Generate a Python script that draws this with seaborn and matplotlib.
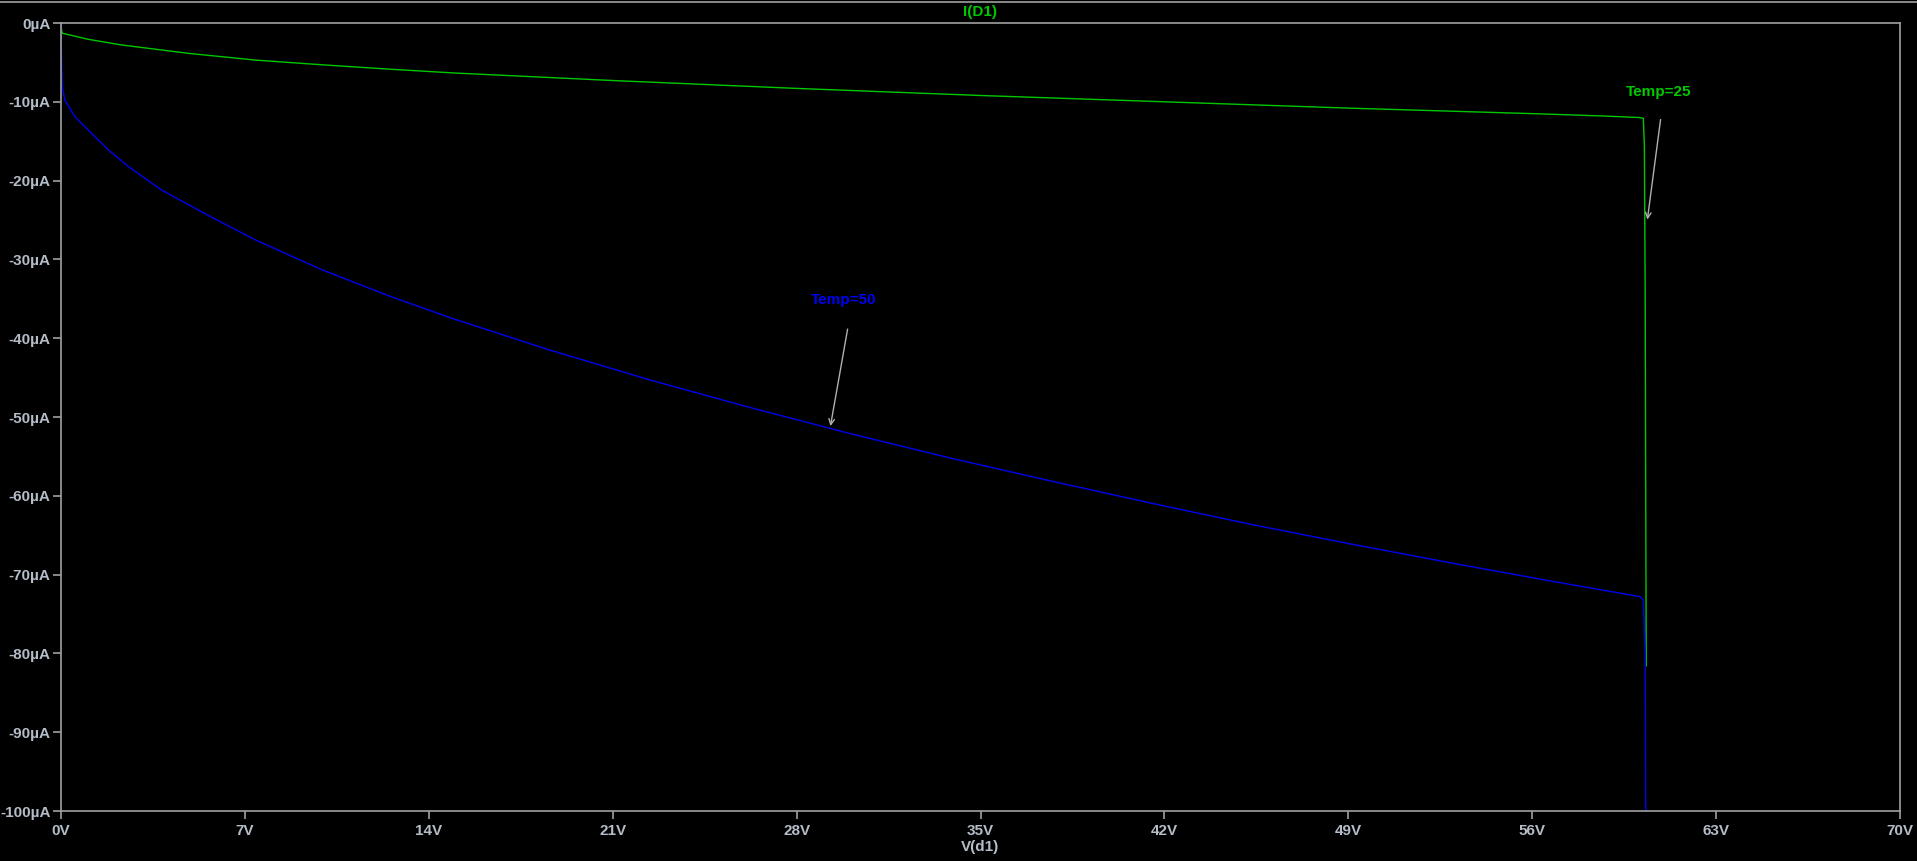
import numpy as np
import pandas as pd
import seaborn as sns
import matplotlib.pyplot as plt
from matplotlib.lines import Line2D

# Diode reverse current vs voltage, two temperatures
v_25 = [0, 0.02, 0.05, 1.04, 2.31, 4.85, 7.38, 9.92, 12.46, 15.0, 21, 28, 35, 42, 49, 56, 58.7, 60.1,
        60.23, 60.27, 60.3, 60.34]
i_25 = [0, -0.9, -1.3, -2.07, -2.79, -3.85, -4.7, -5.3, -5.85, -6.35, -7.3, -8.3, -9.2, -10.0, -10.8, -11.5,
        -11.8, -12.0, -12.1, -15.6, -34.0, -81.6]

v_50 = [0, 0.02, 0.05, 0.15, 0.53, 1.04, 1.80, 2.56, 3.83, 5.48, 7.38, 9.92, 12.46, 14.81, 18.6, 22.42,
        26.23, 30.03, 33.84, 37.65, 41.45, 45.26, 49.07, 52.88, 56.68, 60.11, 60.23, 60.3, 60.33]
i_50 = [0, -4.7, -8.1, -9.8, -11.9, -13.6, -16.1, -18.2, -21.2, -24.2, -27.5, -31.3, -34.6, -37.4, -41.5,
        -45.3, -48.8, -52.1, -55.2, -58.1, -60.9, -63.6, -66.1, -68.5, -70.8, -72.8, -73.2, -80.0, -105.0]

x_ticks = [0, 7, 14, 21, 28, 35, 42, 49, 56, 63, 70]
x_labels = ['0V', '7V', '14V', '21V', '28V', '35V', '42V', '49V', '56V', '63V', '70V']
y_ticks = [0, -10, -20, -30, -40, -50, -60, -70, -80, -90, -100]
y_labels = ['0µA', '-10µA', '-20µA', '-30µA', '-40µA', '-50µA', '-60µA', '-70µA', '-80µA', '-90µA', '-100µA']

df25 = pd.DataFrame({'V': v_25, 'I': i_25})
df50 = pd.DataFrame({'V': v_50, 'I': i_50})

sns.set_style('dark')
plt.rcParams['font.family'] = ['Liberation Sans', 'DejaVu Sans']

green = '#00c800'
blue = '#0000f0'
grey = '#a0a0a0'
label_col = '#b4bcc8'
fs = 11

fig = plt.figure(figsize=(19.17, 8.61), dpi=100, facecolor='black')
ax = fig.add_axes([61 / 1917, 50 / 861, 1839 / 1917, 788 / 861])
ax.set_facecolor('black')

sns.lineplot(data=df25, x='V', y='I', sort=False, estimator=None, color=green, lw=1.0, ax=ax)
sns.lineplot(data=df50, x='V', y='I', sort=False, estimator=None, color=blue, lw=1.0, ax=ax)

ax.set_xlim(0, 70)
ax.set_ylim(-100, 0)
ax.set_xticks(x_ticks)
ax.set_xticklabels(x_labels)
ax.set_yticks(y_ticks)
ax.set_yticklabels(y_labels)
ax.grid(False)
for s in ax.spines.values():
    s.set_visible(True)
    s.set_color(grey)
    s.set_linewidth(1.2)
ax.tick_params(axis='both', colors=grey, labelcolor=label_col, direction='out', length=5.5, width=1.2,
               labelsize=fs, bottom=True, left=True)
ax.tick_params(axis='x', pad=4)
ax.tick_params(axis='y', pad=2)
for t in ax.get_xticklabels() + ax.get_yticklabels():
    t.set_fontweight('bold')

ax.set_xlabel('V(d1)', color=label_col, fontsize=fs, fontweight='bold', labelpad=1)
ax.set_ylabel('')

# title band like the simulator window
fig.text(980 / 1917, 1 - 12 / 861, 'I(D1)', color=green, fontsize=fs, fontweight='bold',
         ha='center', va='center')
fig.add_artist(Line2D([0, 1], [1 - 1.5 / 861] * 2, transform=fig.transFigure, color=grey, lw=1.2))

# trace labels with arrows
ax.annotate('', xy=(60.37, -25.3), xytext=(60.9, -11.9),
            arrowprops=dict(arrowstyle='->', color='#b0b0b0', lw=1.0))
ax.text(60.8, -8.8, 'Temp=25', color=green, fontsize=fs, fontweight='bold', ha='center', va='center')
ax.annotate('', xy=(29.27, -51.5), xytext=(29.96, -38.5),
            arrowprops=dict(arrowstyle='->', color='#b0b0b0', lw=1.0))
ax.text(29.8, -35.2, 'Temp=50', color=blue, fontsize=fs, fontweight='bold', ha='center', va='center')

fig.savefig('out.png', dpi=100, facecolor='black')
